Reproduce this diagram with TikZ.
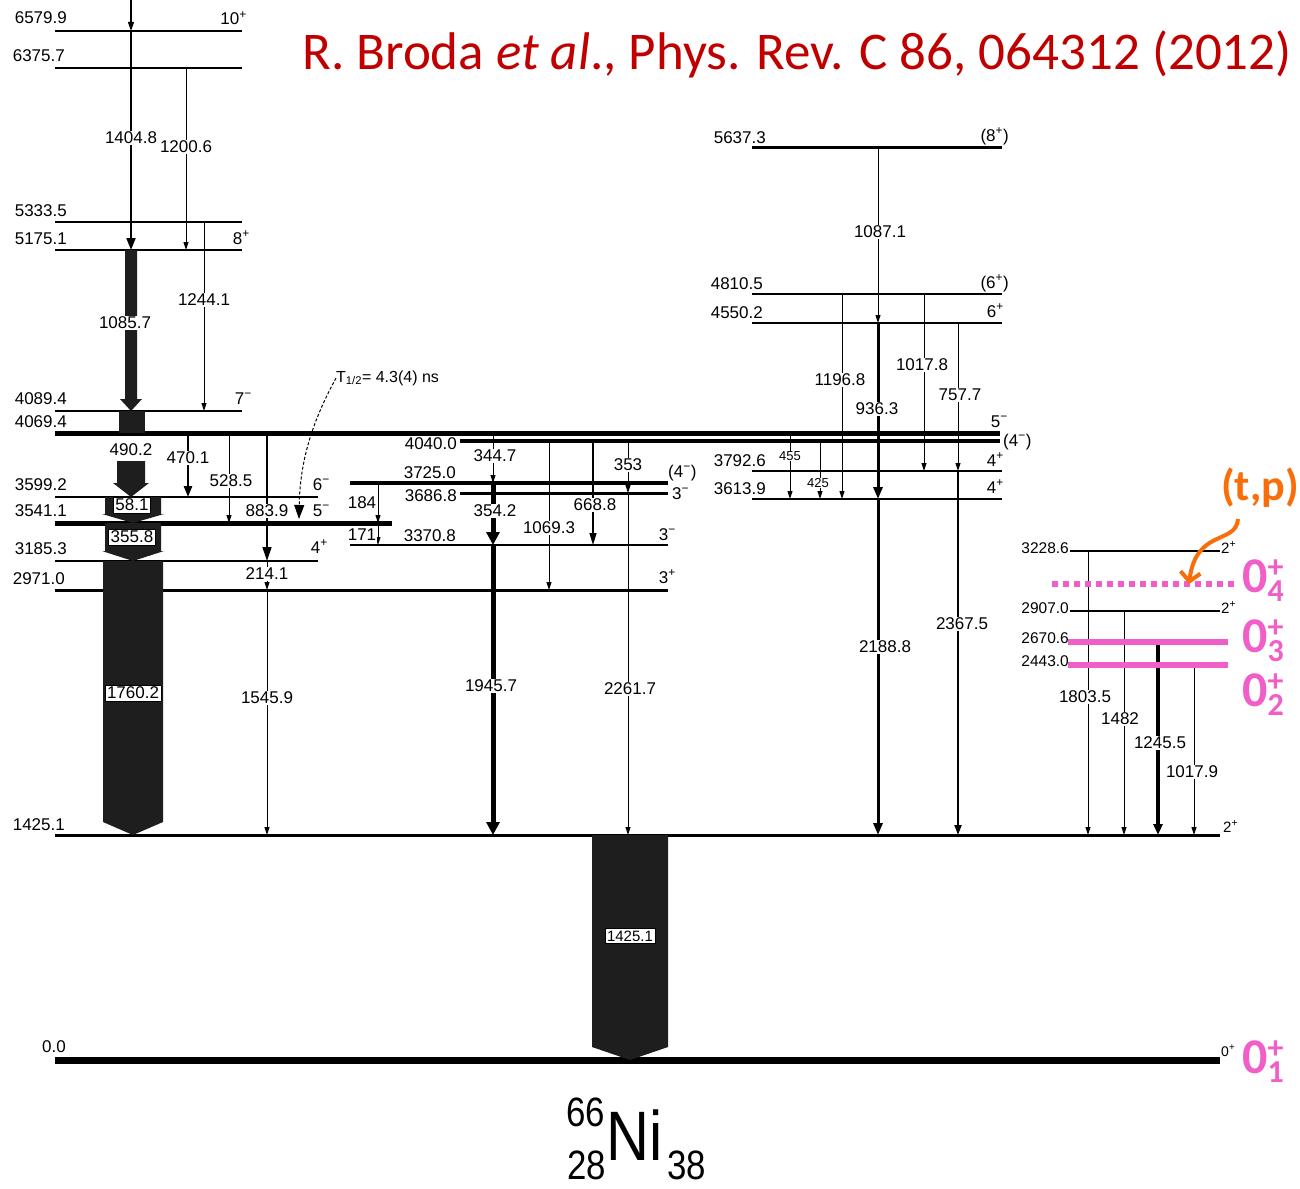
\documentclass[tikz,border=0pt]{standalone}
\usepackage{fontspec}
\setmainfont{Liberation Sans}
\newfontfamily\calib{Carlito}
\usetikzlibrary{arrows.meta}
\definecolor{pinkc}{RGB}{240,95,200}
\definecolor{orangec}{RGB}{250,110,10}
\definecolor{titlered}{RGB}{192,0,0}
\definecolor{barblack}{RGB}{30,30,30}
\newcommand\fsz[1]{\fontsize{#1}{#1}\selectfont}
% fat arrow: xc, half width, ytop, ybottom(tip), head length, head half width
\newcommand\fatarr[6]{\fill[barblack] (#1-#2,#3) -- (#1+#2,#3) -- (#1+#2,#4-#5) -- (#1+#6,#4-#5) -- (#1,#4) -- (#1-#6,#4-#5) -- (#1-#2,#4-#5) -- cycle;}
\newcommand\pinkzero[1]{{\calib\bfseries\fsz{50}0}{\calib\bfseries\fsz{32}\raisebox{-9pt}{\shortstack[l]{+\\#1}}}}
\begin{document}
\begin{tikzpicture}[x=1pt,y=-1pt,
  lv/.style={line width=2pt},
  lvt/.style={line width=5pt},
  tr/.style={line width=1pt,-{Triangle[length=8pt,width=5pt]}},
  trm/.style={line width=2.5pt,-{Triangle[length=11pt,width=8pt]}},
  trb/.style={line width=5pt,-{Triangle[length=13pt,width=13pt]}},
  trk/.style={line width=3pt,-{Triangle[length=12pt,width=9pt]}},
  gl/.style={fill=white, inner sep=1pt, font=\fsz{17}},
  gls/.style={fill=white, inner sep=0.5pt, font=\fsz{13}},
  el/.style={anchor=base east, inner sep=0pt, font=\fsz{17}},
  elr/.style={anchor=base east, inner sep=0pt, font=\fsz{15.5}},
  spe/.style={anchor=base east, inner sep=0pt, font=\fsz{17}},
  spw/.style={anchor=base west, inner sep=0pt, font=\fsz{17}},
  bx/.style={draw=black, line width=0.8pt, fill=white, inner sep=2pt, font=\fsz{17}},
]
\useasboundingbox (0,0) rectangle (1300,1188);

% ---------- title ----------
\node[text=titlered, font=\calib\fsz{53}, anchor=base west, inner sep=0pt] (title) at (302,70) {R. Broda \textit{et al}., Phys. Rev. C 86, 064312 (2012)};

% ---------- level lines ----------
\draw[lv] (55,31) -- (242,31);
\draw[lv] (55,68) -- (242,68);
\draw[lv] (55,222) -- (242,222);
\draw[lv] (55,250) -- (242,250);
\draw[lv] (55,411) -- (242,411);
\draw[lvt] (55,433) -- (1000,433);
\draw[line width=4pt] (460,441) -- (1000,441);
\draw[line width=3.5pt] (350,483) -- (668,483);
\draw[line width=3pt] (460,493) -- (668,493);
\draw[line width=2.5pt] (55,497) -- (318,497);
\draw[lvt] (55,523) -- (392,523);
\draw[line width=2.5pt] (350,545) -- (668,545);
\draw[line width=2.5pt] (55,561) -- (318,561);
\draw[line width=3pt] (55,590) -- (668,590);
\draw[line width=3pt] (55,835) -- (1220,835);
\draw[line width=7pt] (55,1060) -- (1220,1060);
\draw[line width=3pt] (752,147) -- (1002,147);
\draw[line width=2.5pt] (752,294) -- (1002,294);
\draw[line width=2.5pt] (752,323) -- (1002,323);
\draw[line width=2.5pt] (752,471) -- (1002,471);
\draw[line width=2.5pt] (752,499) -- (1002,499);
\draw[line width=1.5pt] (1070,551) -- (1220,551);
\draw[line width=1.5pt] (1070,611) -- (1220,611);

% ---------- fat transitions ----------
\fatarr{131}{6}{250}{411}{12}{11}
\fill[barblack] (119,411) rectangle (145,433);
\fatarr{131}{14}{461}{497}{14}{18}
\fatarr{133}{28}{497}{523}{9}{31}
\fatarr{133}{28}{523}{561}{10}{31}
\fatarr{133}{30}{561}{835}{13}{30}
\fatarr{630}{38}{835}{1060}{13}{38}

% ---------- transitions ----------
\draw[line width=1.2pt,-{Triangle[length=9pt,width=6pt]}] (131,0) -- (131,31);
\draw[line width=2pt,-{Triangle[length=12pt,width=9pt]}] (131,31) -- (131,250);
\draw[tr] (186,68) -- (186,250);
\draw[tr] (204,222) -- (204,411);
\draw[trm] (188,433) -- (188,497);
\draw[tr] (229,433) -- (229,523);
\draw[line width=1.3pt,-{Triangle[length=14pt,width=9pt]}] (267,433) -- (267,561);
\draw[tr] (267,561) -- (267,590);
\draw[tr] (267,590) -- (267,835);
\draw[tr] (378,483) -- (378,523);
\draw[tr] (378,523) -- (378,545);
\draw[tr] (493,433) -- (493,483);
\draw[trb] (493,483) -- (493,545);
\draw[trb] (493,545) -- (493,835);
\draw[tr] (549,441) -- (549,590);
\draw[line width=1.2pt,-{Triangle[length=12pt,width=7pt]}] (593,441) -- (593,545);
\draw[tr] (628,441) -- (628,493);
\draw[tr] (628,493) -- (628,835);
\draw[tr] (878,147) -- (878,323);
\draw[tr] (842,294) -- (842,499);
\draw[trk] (878,323) -- (878,499);
\draw[tr] (924,294) -- (924,471);
\draw[tr] (958,323) -- (958,471);
\draw[tr] (790,433) -- (790,499);
\draw[tr] (820,441) -- (820,499);
\draw[trk] (878,499) -- (878,835);
\draw[line width=2pt,-{Triangle[length=10pt,width=7pt]}] (958,471) -- (958,835);
\draw[tr] (1088,551) -- (1088,835);
\draw[tr] (1124,611) -- (1124,835);
\draw[line width=3.5pt,-{Triangle[length=11pt,width=9pt]}] (1158,642) -- (1158,835);
\draw[tr] (1194,665) -- (1194,835);

% ---------- pink levels ----------
\draw[pinkc, line width=6pt] (1068,642) -- (1228,642);
\draw[pinkc, line width=6pt] (1068,665) -- (1228,665);
\draw[pinkc, line width=6pt, dash pattern=on 6pt off 5pt] (1052,584) -- (1235,584);

% ---------- gamma labels ----------
\node[gl] (g1) at (131,138) {1404.8};
\node[gl] (g2) at (186,147) {1200.6};
\node[gl] (g3) at (204,300) {1244.1};
\node[gl] (g4) at (125,323) {1085.7};
\node[gl] (g5) at (131,450) {490.2};
\node[gl] (g6) at (188,458) {470.1};
\node[gl] (g7) at (231,481) {528.5};
\node[gl] (g8) at (267,511) {883.9};
\node[gl] (g9) at (267,574) {214.1};
\node[gl] (g10) at (267,698) {1545.9};
\node[gl] (g11) at (362,503) {184};
\node[gl] (g12) at (362,535) {171};
\node[gl] (g13) at (495,456) {344.7};
\node[gl] (g14) at (495,511) {354.2};
\node[gl] (g15) at (491,686) {1945.7};
\node[gl] (g16) at (549,528) {1069.3};
\node[gl] (g17) at (595,505) {668.8};
\node[gl] (g18) at (628,465) {353};
\node[gl] (g19) at (630,689) {2261.7};
\node[gl] (g20) at (880,232) {1087.1};
\node[gl] (g21) at (840,380) {1196.8};
\node[gl] (g22) at (877,409) {936.3};
\node[gl] (g23) at (922,365) {1017.8};
\node[gl] (g24) at (960,395) {757.7};
\node[gls] (g25) at (790,456) {455};
\node[gls] (g26) at (818,483) {425};
\node[gl] (g27) at (885,647) {2188.8};
\node[gl] (g28) at (962,624) {2367.5};
\node[gl] (g29) at (1085,697) {1803.5};
\node[gl] (g30) at (1120,719) {1482};
\node[gl] (g31) at (1160,743) {1245.5};
\node[gl] (g32) at (1192,772) {1017.9};
\node[bx] (b1) at (132,505) {58.1};
\node[bx] (b2) at (132,537) {355.8};
\node[bx] (b3) at (133,693) {1760.2};
\node[bx, font=\fsz{15}] (b4) at (630,936) {1425.1};

% ---------- level energies ----------
\node[el] (e1) at (67,24) {6579.9};
\node[el] (e2) at (65,62) {6375.7};
\node[el] (e3) at (67,216) {5333.5};
\node[el] (e4) at (67,244) {5175.1};
\node[el] (e5) at (67,404) {4089.4};
\node[el] (e6) at (67,427) {4069.4};
\node[el] (e7) at (67,490) {3599.2};
\node[el] (e8) at (67,516) {3541.1};
\node[el] (e9) at (67,554) {3185.3};
\node[el] (e10) at (65,584) {2971.0};
\node[el] (e11) at (65,830) {1425.1};
\node[el] (e12) at (66,1052) {0.0};
\node[el] (e13) at (456,478) {3725.0};
\node[el] (e14) at (456,541) {3370.8};
\node[anchor=east, inner sep=0pt, font=\fsz{17}] (e15) at (457,444) {4040.0};
\node[anchor=east, inner sep=0pt, font=\fsz{17}] (e16) at (457,496) {3686.8};
\node[el] (e17) at (766,143) {5637.3};
\node[el] (e18) at (763,289) {4810.5};
\node[el] (e19) at (763,318) {4550.2};
\node[el] (e20) at (766,466) {3792.6};
\node[el] (e21) at (766,494) {3613.9};
\node[elr] (e22) at (1069,553) {3228.6};
\node[elr] (e23) at (1069,613) {2907.0};
\node[elr] (e24) at (1069,643) {2670.6};
\node[elr] (e25) at (1069,666) {2443.0};

% ---------- spins ----------
\node[spe] (s1) at (247,25) {10\textsuperscript{+}};
\node[spe] (s2) at (250,244) {8\textsuperscript{+}};
\node[spe] (s3) at (252,404) {7\textsuperscript{−}};
\node[spe] (s4) at (330,490) {6\textsuperscript{−}};
\node[spe] (s5) at (330,516) {5\textsuperscript{−}};
\node[spe] (s6) at (328,553) {4\textsuperscript{+}};
\node[spw] (s7) at (668,477) {(4\textsuperscript{−})};
\node[spw] (s8) at (672,499) {3\textsuperscript{−}};
\node[spe] (s9) at (676,540) {3\textsuperscript{−}};
\node[spe] (s10) at (676,583) {3\textsuperscript{+}};
\node[spe] (s11) at (1008,427) {5\textsuperscript{−}};
\node[spw] (s12) at (1003,446) {(4\textsuperscript{−})};
\node[spe] (s13) at (1009,141) {(8\textsuperscript{+})};
\node[spe] (s14) at (1009,288) {(6\textsuperscript{+})};
\node[spe] (s15) at (1004,317) {6\textsuperscript{+}};
\node[spe] (s16) at (1004,466) {4\textsuperscript{+}};
\node[spe] (s17) at (1004,493) {4\textsuperscript{+}};
\node[spw, font=\fsz{15}] (s18) at (1221,553) {2\textsuperscript{+}};
\node[spw, font=\fsz{15}] (s19) at (1221,613) {2\textsuperscript{+}};
\node[spw, font=\fsz{15}] (s20) at (1223,832) {2\textsuperscript{+}};
\node[spw, font=\fsz{14}] (s21) at (1221,1056) {0\textsuperscript{+}};

% ---------- pink 0+ labels ----------
\node[anchor=base west, inner sep=0pt, text=pinkc] (p4) at (1242,592) {\pinkzero{4}};
\node[anchor=base west, inner sep=0pt, text=pinkc] (p3) at (1242,652) {\pinkzero{3}};
\node[anchor=base west, inner sep=0pt, text=pinkc] (p2) at (1242,706) {\pinkzero{2}};
\node[anchor=base west, inner sep=0pt, text=pinkc] (p1) at (1242,1073) {\pinkzero{1}};

% ---------- half-life annotation ----------
\node[anchor=west, inner sep=0pt, font=\fsz{16}] (thalf) at (336,378) {T\textsubscript{1/2}= 4.3(4) ns};
\coordinate (iso) at (299,519);
\draw[densely dashed, line width=1pt, -{Triangle[length=14pt,width=10pt]}] (thalf.west) .. controls (316,415) and (300,455) .. (iso);

% ---------- (t,p) ----------
\node[text=orangec, font=\calib\bfseries\fsz{44}, inner sep=0pt] (tp) at (1260,488) {(t,p)};
\coordinate (tpend) at (1189,584);
\draw[orangec, line width=4pt, -{Straight Barb[length=9pt,width=20pt]}] (1238,519) .. controls (1236,545) and (1196,528) .. (tpend);

% ---------- nucleus ----------
\node[anchor=base west, inner sep=0pt, xscale=0.85, font=\fsz{70}] (ni) at (606,1160) {Ni};
\node[anchor=base east, inner sep=0pt, xscale=0.85, font=\fsz{41}] (mass) at (605,1126) {66};
\node[anchor=base east, inner sep=0pt, xscale=0.85, font=\fsz{41}] (zz) at (606,1179) {28};
\node[anchor=base west, inner sep=0pt, xscale=0.85, font=\fsz{41}] (nn) at (667,1179) {38};
\end{tikzpicture}
\end{document}
